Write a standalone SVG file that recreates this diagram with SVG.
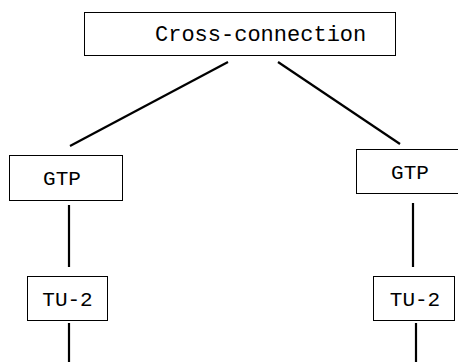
<svg xmlns="http://www.w3.org/2000/svg" width="458" height="362" viewBox="0 0 458 362">
<style>
.box{fill:#fff;stroke:#000;stroke-width:1}
.lbl{font-family:"Liberation Mono","Courier New",monospace;font-size:21px;fill:#000}
.top{font-size:22px}
.conn line{stroke:#000;stroke-width:2.2}
</style>
<rect width="458" height="362" fill="#fff"/>
<g class="conn">
<line x1="228" y1="62" x2="70" y2="146"/>
<line x1="278" y1="62" x2="400" y2="144"/>
<line x1="69" y1="205" x2="69" y2="267"/>
<line x1="413" y1="203" x2="413" y2="267"/>
<line x1="69" y1="323" x2="69" y2="362"/>
<line x1="416" y1="323" x2="416" y2="362"/>
</g>
<g id="cross">
<rect class="box" x="84.5" y="12.5" width="311" height="43"/>
<text class="lbl top" x="155" y="41">Cross-connection</text>
</g>
<g id="gtp-left">
<rect class="box" x="9.5" y="155.5" width="113" height="45"/>
<text class="lbl" x="62" y="185" text-anchor="middle">GTP</text>
</g>
<g id="gtp-right">
<rect class="box" x="356.5" y="149.5" width="105" height="44"/>
<text class="lbl" x="410" y="179" text-anchor="middle">GTP</text>
</g>
<g id="tu2-left">
<rect class="box" x="27.5" y="276.5" width="80" height="44"/>
<text class="lbl" x="67.5" y="306" text-anchor="middle">TU-2</text>
</g>
<g id="tu2-right">
<rect class="box" x="373.5" y="276.5" width="81" height="44"/>
<text class="lbl" x="415" y="306" text-anchor="middle">TU-2</text>
</g>
</svg>
